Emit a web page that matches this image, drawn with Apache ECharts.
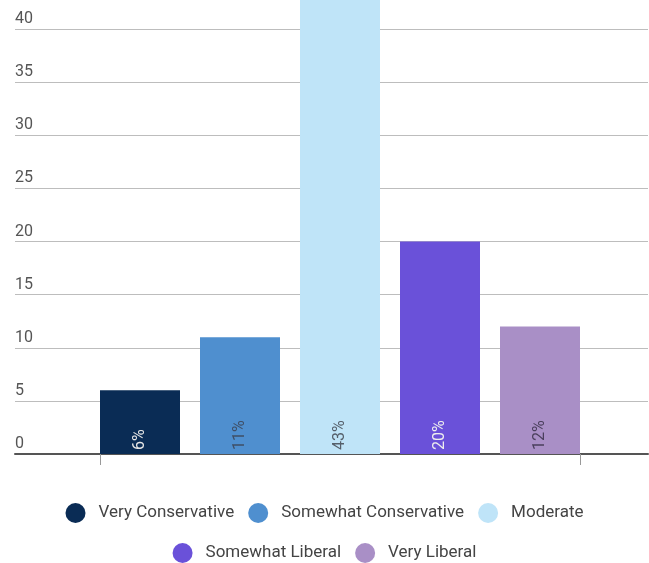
<!DOCTYPE html>
<html>
<head>
<meta charset="utf-8">
<script src="https://cdn.jsdelivr.net/npm/echarts@6/dist/echarts.min.js"></script>
<style>html,body{margin:0;padding:0;background:#fff}#c{width:649px;height:563px}</style>
</head>
<body>
<div id="c"></div>
<script>
const seriesNames = ['Very Conservative', 'Somewhat Conservative', 'Moderate', 'Somewhat Liberal', 'Very Liberal'];
const seriesValues = [6, 11, 43, 20, 12];
const seriesColors = ['#0a2c55', '#4f8fcf', '#bfe4f8', '#6a51d9', '#a98fc6'];
const labelColors = ['#e6e6e6', '#3f4f66', '#555f6a', '#eeeeee', '#4a3f5c'];
const yTicks = [0, 5, 10, 15, 20, 25, 30, 35, 40];
const category = [''];

const chart = echarts.init(document.getElementById('c'));
const series = seriesNames.map((n, i) => ({
  name: n,
  type: 'bar',
  xAxisIndex: 1,
  yAxisIndex: 1,
  data: [seriesValues[i]],
  itemStyle: { color: seriesColors[i] },
  barGap: '25%',
  barCategoryGap: '0%',
  clip: true,
  label: {
    show: true,
    position: 'insideBottom',
    rotate: 90,
    align: 'left',
    verticalAlign: 'middle',
    distance: 4,
    formatter: '{c}%',
    color: labelColors[i],
    fontFamily: 'Roboto',
    fontSize: 16
  }
}));
const yMax = 42.73;
const legendText = { color: '#444', fontFamily: 'Roboto', fontSize: 17, padding: [0, 0, 0, 8] };
chart.setOption({
  animation: false,
  grid: [
    { left: 15, right: 1, top: 0, bottom: 109 },
    { left: 100, right: 69, top: 0, bottom: 109 }
  ],
  xAxis: [
    { gridIndex: 0, type: 'category', data: category, axisLine: { show: true, lineStyle: { color: '#555', width: 2 } }, axisTick: { show: false }, axisLabel: { show: false } },
    { gridIndex: 1, type: 'category', data: category, axisLine: { show: false }, axisTick: { show: true, length: 11, alignWithLabel: false, lineStyle: { color: '#999', width: 1 } }, axisLabel: { show: false } }
  ],
  yAxis: [
    {
      gridIndex: 0, type: 'value', min: 0, max: yMax, interval: 5,
      axisLine: { show: false }, axisTick: { show: false },
      splitLine: { show: true, showMaxLine: false, showMinLine: false, lineStyle: { color: '#bdbdbd', width: 1 } },
      axisLabel: {
        inside: true, margin: 0, align: 'left', verticalAlign: 'bottom', padding: [0, 0, 2, 0],
        showMaxLabel: false, color: '#555', fontFamily: 'Roboto', fontSize: 16,
        formatter: v => yTicks.includes(v) ? String(v) : ''
      }
    },
    { gridIndex: 1, type: 'value', min: 0, max: yMax, interval: 5, show: false, splitLine: { show: false } }
  ],
  legend: [
    {
      data: seriesNames.slice(0, 3), top: 503, left: 'center', padding: 0, icon: 'circle', itemWidth: 20, itemHeight: 20, itemGap: 14,
      textStyle: legendText
    },
    {
      data: seriesNames.slice(3), top: 543, left: 'center', padding: 0, icon: 'circle', itemWidth: 20, itemHeight: 20, itemGap: 14,
      textStyle: legendText
    }
  ],
  series: series
});
</script>
</body>
</html>
